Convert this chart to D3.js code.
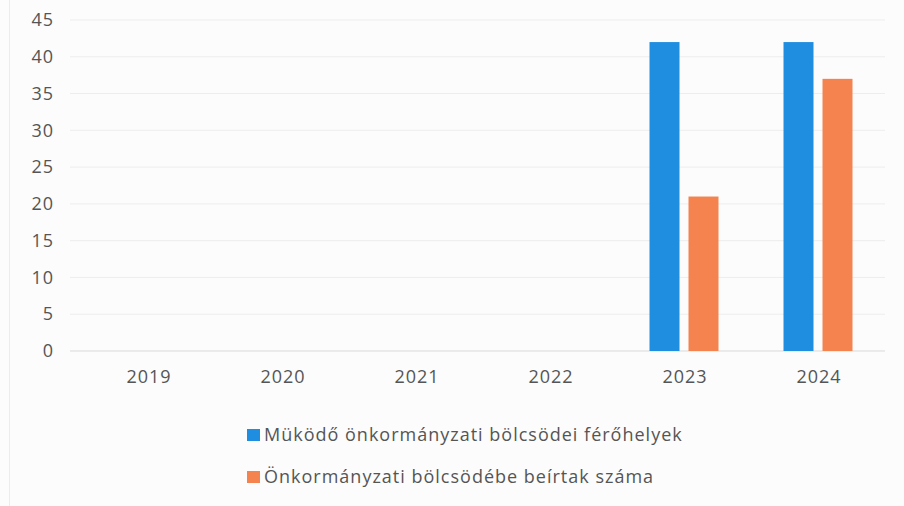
<!DOCTYPE html>
<html>
<head>
<meta charset="utf-8">
<script src="https://cdn.jsdelivr.net/npm/d3@7"></script>
<style>
  body { margin: 0; background: #fcfcfc; }
  text { font-family: "Open Sans", Lato, sans-serif; fill: #555; letter-spacing: 1px; }
</style>
</head>
<body>
<div id="chart-area"></div>
<script>
// years and the two series (only 2023 and 2024 have data)
var years = ["2019", "2020", "2021", "2022", "2023", "2024"];
var places = [0, 0, 0, 0, 42, 42];
var enrolled = [0, 0, 0, 0, 21, 37];
var seriesNames = ["Müködő önkormányzati bölcsödei férőhelyek", "Önkormányzati bölcsödébe beírtak száma"];
var colors = ["#1f8ee0", "#f4834f"];
var yTicks = [0, 5, 10, 15, 20, 25, 30, 35, 40, 45];

var svg = d3.select("#chart-area").append("svg")
    .attr("width", 904)
    .attr("height", 506);

// faint scan border on the left
svg.append("line")
    .attr("x1", 9.5).attr("x2", 9.5)
    .attr("y1", 0).attr("y2", 506)
    .attr("stroke", "#ececec");

var x = d3.scaleBand().domain(years).range([81, 885]);
var y = d3.scaleLinear().domain([0, 45]).range([351, 20]);

// gridlines
svg.selectAll("line.grid")
    .data(yTicks)
    .enter().append("line")
    .attr("class", "grid")
    .attr("x1", 70).attr("x2", 885)
    .attr("y1", function(d) { return y(d); })
    .attr("y2", function(d) { return y(d); })
    .attr("stroke", function(d) { return d == 0 ? "#d9d9d9" : "#ededed"; })
    .attr("stroke-width", 1);

// y axis labels
var yAxis = svg.append("g")
    .attr("transform", "translate(54,0)")
    .call(d3.axisLeft(y).tickValues(yTicks).tickSize(0).tickPadding(0));
yAxis.select(".domain").remove();
yAxis.selectAll("text").style("font-size", "18px").attr("fill", "#555");

// x axis labels
var xAxis = svg.append("g")
    .attr("transform", "translate(1,369)")
    .call(d3.axisBottom(x).tickSize(0).tickPadding(0));
xAxis.select(".domain").remove();
xAxis.selectAll("text").style("font-size", "18px").attr("fill", "#555").attr("dy", "0.8em");

var barW = 30, gap = 9;
var rows = years.map(function(d, i) { return { year: d, vals: [places[i], enrolled[i]] }; });

var groups = svg.selectAll("g.year")
    .data(rows)
    .enter().append("g")
    .attr("class", "year")
    .attr("transform", function(d) { return "translate(" + (x(d.year) + x.bandwidth() / 2) + ",0)"; });

groups.selectAll("rect")
    .data(function(d) { return d.vals; })
    .enter().append("rect")
    .attr("x", function(d, i) { return i == 0 ? -(barW + gap / 2) : gap / 2; })
    .attr("width", barW)
    .attr("y", function(d) { return y(d); })
    .attr("height", function(d) { return y(0) - y(d); })
    .attr("fill", function(d, i) { return colors[i]; });

// legend
var legend = svg.selectAll("g.legend")
    .data(seriesNames)
    .enter().append("g")
    .attr("class", "legend")
    .attr("transform", function(d, i) { return "translate(247," + (429 + i * 42) + ")"; });

legend.append("rect")
    .attr("width", 13).attr("height", 12)
    .attr("fill", function(d, i) { return colors[i]; });

legend.append("text")
    .attr("x", 17).attr("y", 12)
    .style("font-size", "18px")
    .text(function(d) { return d; });
</script>
</body>
</html>
